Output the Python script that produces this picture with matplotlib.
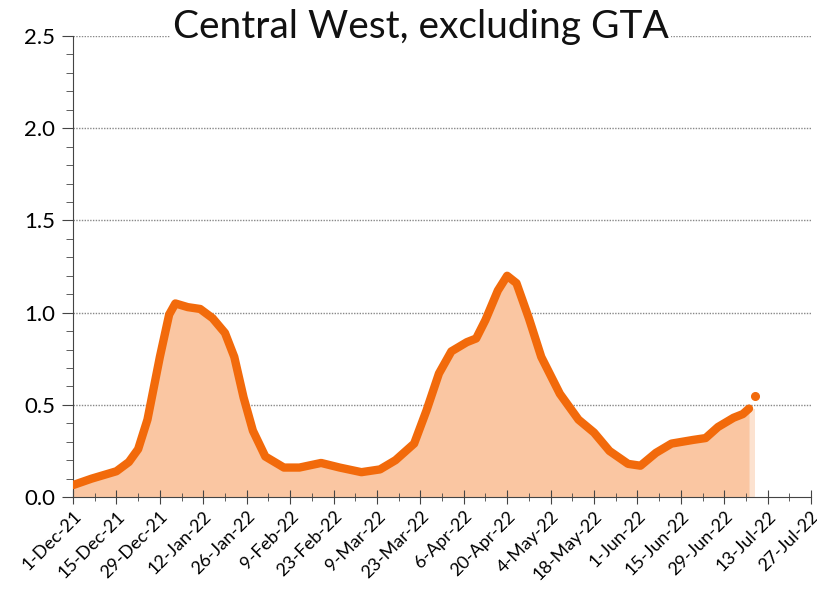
import matplotlib
matplotlib.use('Agg')
import matplotlib.pyplot as plt
import matplotlib.dates as mdates
from matplotlib.ticker import MultipleLocator, FormatStrFormatter
import pandas as pd

plt.rcParams['font.family'] = ['Lato', 'DejaVu Sans']

# values
dates = ['2021-12-01', '2021-12-07', '2021-12-15', '2021-12-19', '2021-12-22',
         '2021-12-25', '2021-12-29', '2022-01-01', '2022-01-03', '2022-01-07',
         '2022-01-11', '2022-01-15', '2022-01-19', '2022-01-22', '2022-01-25',
         '2022-01-28', '2022-02-01', '2022-02-07', '2022-02-12', '2022-02-19',
         '2022-02-25', '2022-03-04', '2022-03-10', '2022-03-15', '2022-03-21',
         '2022-03-25', '2022-03-29', '2022-04-02', '2022-04-07', '2022-04-10',
         '2022-04-13', '2022-04-17', '2022-04-20', '2022-04-23', '2022-04-27',
         '2022-05-01', '2022-05-07', '2022-05-13', '2022-05-18', '2022-05-23',
         '2022-05-29', '2022-06-02', '2022-06-07', '2022-06-12', '2022-06-19',
         '2022-06-23', '2022-06-27', '2022-07-02', '2022-07-05', '2022-07-07']
values = [0.065, 0.10, 0.14, 0.19, 0.26,
          0.42, 0.76, 0.99, 1.05, 1.03,
          1.02, 0.97, 0.89, 0.76, 0.54,
          0.36, 0.22, 0.16, 0.16, 0.185,
          0.16, 0.135, 0.15, 0.20, 0.29,
          0.47, 0.67, 0.79, 0.84, 0.86,
          0.96, 1.12, 1.20, 1.16, 0.97,
          0.76, 0.56, 0.42, 0.35, 0.25,
          0.18, 0.17, 0.24, 0.29, 0.31,
          0.32, 0.38, 0.43, 0.45, 0.48]
last_date = '2022-07-09'
last_value = 0.55
y_gridlines = [0.5, 1.0, 1.5, 2.0, 2.5]

x = pd.to_datetime(dates)
line_col = '#F26A0B'
fill_col = '#FAC6A2'

fig = plt.figure(figsize=(8.17, 5.96), dpi=100)
ax = fig.add_axes([0.0894, 0.166, 0.9033, 0.7735])

# grid under the fill, ticks above it
ax.hlines(y_gridlines, pd.Timestamp('2021-12-01'), pd.Timestamp('2022-07-27'),
          color='#888888', linestyle=(0, (1, 1)), lw=1, zorder=0.2)
ax.fill_between(x, 0, values, color=fill_col, lw=0, zorder=0.3)
ax.fill_between([x[-1], pd.Timestamp(last_date)], 0, [values[-1], values[-1]],
                color=fill_col, alpha=0.5, lw=0, zorder=0.3)
ax.plot(x, values, color=line_col, lw=6, solid_capstyle='round',
        solid_joinstyle='round', zorder=3)
ax.plot([pd.Timestamp(last_date)], [last_value], 'o', color=line_col, ms=5.5, zorder=3)

ax.set_ylim(0, 2.5)
ax.set_xlim(pd.Timestamp('2021-12-01'), pd.Timestamp('2022-07-27'))
ax.yaxis.set_major_locator(MultipleLocator(0.5))
ax.yaxis.set_minor_locator(MultipleLocator(0.1))
ax.yaxis.set_major_formatter(FormatStrFormatter('%.1f'))
ax.set_xticks(pd.date_range('2021-12-01', '2022-07-27', freq='14D'))
ax.set_xticks(pd.date_range('2021-12-08', '2022-07-27', freq='14D'), minor=True)
ax.xaxis.set_major_formatter(mdates.DateFormatter('%-d-%b-%y'))

for s in ['top', 'right']:
    ax.spines[s].set_visible(False)
ax.spines['left'].set_color('#444444')
ax.spines['bottom'].set_color('#444444')
ax.spines['left'].set_zorder(2)
ax.spines['bottom'].set_zorder(2)

ax.tick_params(axis='y', which='major', length=8, color='#444444', labelsize=16, pad=5)
ax.tick_params(axis='y', which='minor', length=5, color='#444444')
ax.tick_params(axis='x', which='major', direction='inout', length=10, color='#444444',
               labelsize=13, pad=3)
ax.tick_params(axis='x', which='minor', direction='inout', length=6, color='#444444')
plt.setp(ax.get_xticklabels(), rotation=45, ha='right', rotation_mode='anchor')

fig.text(0.515, 0.955, 'Central West, excluding GTA', ha='center', va='center',
         fontsize=28, color='#111111',
         bbox=dict(facecolor='white', edgecolor='none', pad=2))

fig.savefig('out.png', dpi=100)
